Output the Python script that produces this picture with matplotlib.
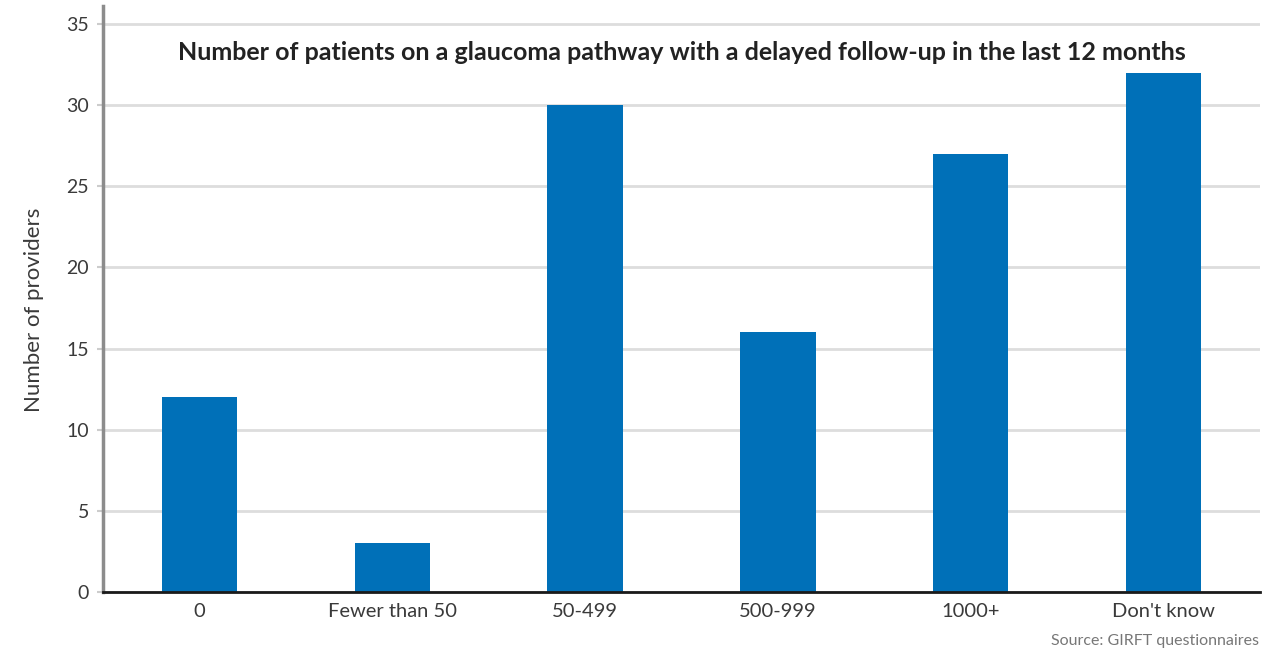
import matplotlib
matplotlib.use("Agg")
import matplotlib.pyplot as plt
import numpy as np

categories = ["0", "Fewer than 50", "50-499", "500-999", "1000+", "Don't know"]
providers = [12, 3, 30, 16, 27, 32]
y_ticks = [0, 5, 10, 15, 20, 25, 30, 35]

title = "Number of patients on a glaucoma pathway with a delayed follow-up in the last 12 months"
source = "Source: GIRFT questionnaires"

plt.rcParams["font.family"] = ["Lato", "DejaVu Sans"]

fig = plt.figure(figsize=(12.81, 6.53), dpi=100)
ax = fig.add_axes([0.0804, 0.0934, 0.9032, 0.8974])

x = np.arange(len(categories))
ax.bar(x, providers, width=0.39, color="#0070B8", zorder=3)

ax.set_xlim(-0.5, len(categories) - 0.5)
ax.set_ylim(0, 36.1)
ax.set_yticks(y_ticks)
ax.set_xticks(x)
ax.set_xticklabels(categories, fontsize=14.5, color="#3a3a3a")
ax.tick_params(axis="y", labelsize=14, labelcolor="#3a3a3a", length=4,
               color="#cccccc", width=1.5, pad=6)
ax.tick_params(axis="x", length=0, pad=8)

ax.grid(axis="y", color="#dddddd", linewidth=2, zorder=0)
ax.set_axisbelow(True)

for side in ("top", "right"):
    ax.spines[side].set_visible(False)
ax.spines["left"].set_color("#8c8c8c")
ax.spines["left"].set_linewidth(2.5)
ax.spines["bottom"].set_color("#1a1a1a")
ax.spines["bottom"].set_linewidth(2)
ax.spines["bottom"].set_zorder(4)

ax.set_ylabel("Number of providers", fontsize=16, color="#3a3a3a")
ax.yaxis.set_label_coords(-0.051, 0.481)

ax.text(0.5, 0.921, title, transform=ax.transAxes, ha="center", va="center",
        fontsize=18, fontweight="bold", color="#222222")

fig.text(0.983, 0.008, source, ha="right", va="bottom", fontsize=11.5, color="#777777")

fig.savefig("out.png", dpi=100, facecolor="white")
